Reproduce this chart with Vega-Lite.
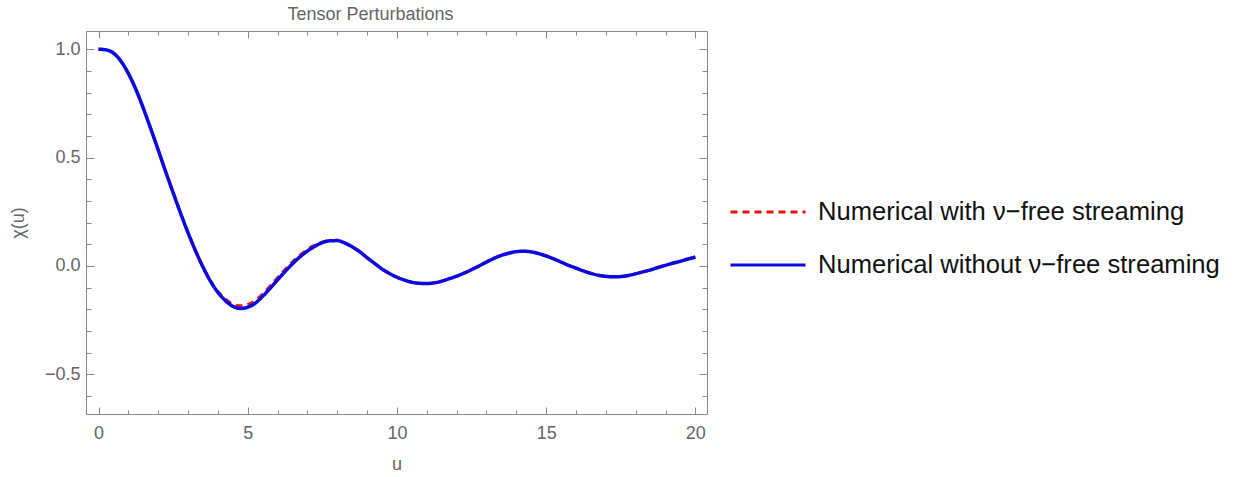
{
  "$schema": "https://vega.github.io/schema/vega-lite/v6.json",
  "autosize": "none",
  "width": 621,
  "height": 383,
  "padding": {"left": 86, "top": 31, "right": 545, "bottom": 63},
  "background": "white",
  "config": {
    "view": {"stroke": "#8a8a8a", "strokeWidth": 1},
    "font": "Liberation Sans",
    "axis": {"grid": false, "domain": false, "tickColor": "#8a8a8a", "tickWidth": 1, "labelFont": "Liberation Sans", "titleFont": "Liberation Sans", "labelColor": "#666666", "titleColor": "#666666", "labelFontSize": 18, "titleFontSize": 18, "titleFontWeight": "normal", "labelFlush": false, "labelOverlap": false}
  },
  "title": {"text": "Tensor Perturbations", "font": "Liberation Sans", "fontSize": 18, "fontWeight": "normal", "color": "#666666", "anchor": "middle", "baseline": "alphabetic", "offset": 9, "dx": -26, "dy": 16},
  "data": {"values": [
    {"u":0,"chi":1.000,"s":"B"},{"u":0.25,"chi":0.997,"s":"B"},{"u":0.5,"chi":0.982,"s":"B"},{"u":0.75,"chi":0.945,"s":"B"},{"u":1,"chi":0.888,"s":"B"},{"u":1.25,"chi":0.815,"s":"B"},{"u":1.5,"chi":0.728,"s":"B"},{"u":1.75,"chi":0.633,"s":"B"},{"u":2,"chi":0.535,"s":"B"},{"u":2.25,"chi":0.435,"s":"B"},{"u":2.5,"chi":0.338,"s":"B"},{"u":2.75,"chi":0.243,"s":"B"},{"u":3,"chi":0.153,"s":"B"},{"u":3.25,"chi":0.070,"s":"B"},{"u":3.5,"chi":-0.005,"s":"B"},{"u":3.75,"chi":-0.070,"s":"B"},{"u":4,"chi":-0.122,"s":"B"},{"u":4.25,"chi":-0.160,"s":"B"},{"u":4.5,"chi":-0.186,"s":"B"},{"u":4.75,"chi":-0.196,"s":"B"},{"u":5,"chi":-0.190,"s":"B"},{"u":5.25,"chi":-0.172,"s":"B"},{"u":5.5,"chi":-0.140,"s":"B"},{"u":5.75,"chi":-0.103,"s":"B"},{"u":6,"chi":-0.064,"s":"B"},{"u":6.25,"chi":-0.026,"s":"B"},{"u":6.5,"chi":0.010,"s":"B"},{"u":6.75,"chi":0.042,"s":"B"},{"u":7,"chi":0.069,"s":"B"},{"u":7.25,"chi":0.091,"s":"B"},{"u":7.5,"chi":0.108,"s":"B"},{"u":7.75,"chi":0.116,"s":"B"},{"u":8,"chi":0.117,"s":"B"},{"u":8.25,"chi":0.106,"s":"B"},{"u":8.5,"chi":0.088,"s":"B"},{"u":8.75,"chi":0.066,"s":"B"},{"u":9,"chi":0.038,"s":"B"},{"u":9.25,"chi":0.012,"s":"B"},{"u":9.5,"chi":-0.014,"s":"B"},{"u":9.75,"chi":-0.035,"s":"B"},{"u":10,"chi":-0.052,"s":"B"},{"u":10.25,"chi":-0.065,"s":"B"},{"u":10.5,"chi":-0.075,"s":"B"},{"u":10.75,"chi":-0.080,"s":"B"},{"u":11,"chi":-0.081,"s":"B"},{"u":11.25,"chi":-0.078,"s":"B"},{"u":11.5,"chi":-0.070,"s":"B"},{"u":11.75,"chi":-0.059,"s":"B"},{"u":12,"chi":-0.047,"s":"B"},{"u":12.25,"chi":-0.033,"s":"B"},{"u":12.5,"chi":-0.017,"s":"B"},{"u":12.75,"chi":0.000,"s":"B"},{"u":13,"chi":0.018,"s":"B"},{"u":13.25,"chi":0.035,"s":"B"},{"u":13.5,"chi":0.049,"s":"B"},{"u":13.75,"chi":0.059,"s":"B"},{"u":14,"chi":0.066,"s":"B"},{"u":14.25,"chi":0.068,"s":"B"},{"u":14.5,"chi":0.065,"s":"B"},{"u":14.75,"chi":0.057,"s":"B"},{"u":15,"chi":0.046,"s":"B"},{"u":15.25,"chi":0.033,"s":"B"},{"u":15.5,"chi":0.018,"s":"B"},{"u":15.75,"chi":0.003,"s":"B"},{"u":16,"chi":-0.010,"s":"B"},{"u":16.25,"chi":-0.023,"s":"B"},{"u":16.5,"chi":-0.034,"s":"B"},{"u":16.75,"chi":-0.043,"s":"B"},{"u":17,"chi":-0.048,"s":"B"},{"u":17.25,"chi":-0.050,"s":"B"},{"u":17.5,"chi":-0.049,"s":"B"},{"u":17.75,"chi":-0.044,"s":"B"},{"u":18,"chi":-0.036,"s":"B"},{"u":18.25,"chi":-0.027,"s":"B"},{"u":18.5,"chi":-0.018,"s":"B"},{"u":18.75,"chi":-0.007,"s":"B"},{"u":19,"chi":0.003,"s":"B"},{"u":19.25,"chi":0.013,"s":"B"},{"u":19.5,"chi":0.022,"s":"B"},{"u":19.75,"chi":0.032,"s":"B"},{"u":20,"chi":0.041,"s":"B"},
    {"u":0,"chi":1.000,"s":"A"},{"u":0.25,"chi":0.997,"s":"A"},{"u":0.5,"chi":0.982,"s":"A"},{"u":0.75,"chi":0.945,"s":"A"},{"u":1,"chi":0.888,"s":"A"},{"u":1.25,"chi":0.815,"s":"A"},{"u":1.5,"chi":0.728,"s":"A"},{"u":1.75,"chi":0.633,"s":"A"},{"u":2,"chi":0.535,"s":"A"},{"u":2.25,"chi":0.435,"s":"A"},{"u":2.5,"chi":0.338,"s":"A"},{"u":2.75,"chi":0.243,"s":"A"},{"u":3,"chi":0.153,"s":"A"},{"u":3.25,"chi":0.070,"s":"A"},{"u":3.5,"chi":-0.004,"s":"A"},{"u":3.75,"chi":-0.068,"s":"A"},{"u":4,"chi":-0.118,"s":"A"},{"u":4.25,"chi":-0.153,"s":"A"},{"u":4.5,"chi":-0.176,"s":"A"},{"u":4.75,"chi":-0.184,"s":"A"},{"u":5,"chi":-0.178,"s":"A"},{"u":5.25,"chi":-0.160,"s":"A"},{"u":5.5,"chi":-0.130,"s":"A"},{"u":5.75,"chi":-0.093,"s":"A"},{"u":6,"chi":-0.054,"s":"A"},{"u":6.25,"chi":-0.016,"s":"A"},{"u":6.5,"chi":0.019,"s":"A"},{"u":6.75,"chi":0.050,"s":"A"},{"u":7,"chi":0.076,"s":"A"},{"u":7.25,"chi":0.096,"s":"A"},{"u":7.5,"chi":0.110,"s":"A"},{"u":7.75,"chi":0.117,"s":"A"},{"u":8,"chi":0.117,"s":"A"},{"u":8.25,"chi":0.106,"s":"A"},{"u":8.5,"chi":0.088,"s":"A"},{"u":8.75,"chi":0.066,"s":"A"},{"u":9,"chi":0.038,"s":"A"},{"u":9.25,"chi":0.012,"s":"A"},{"u":9.5,"chi":-0.014,"s":"A"},{"u":9.75,"chi":-0.035,"s":"A"},{"u":10,"chi":-0.052,"s":"A"},{"u":10.25,"chi":-0.065,"s":"A"},{"u":10.5,"chi":-0.075,"s":"A"},{"u":10.75,"chi":-0.080,"s":"A"},{"u":11,"chi":-0.081,"s":"A"},{"u":11.25,"chi":-0.078,"s":"A"},{"u":11.5,"chi":-0.070,"s":"A"},{"u":11.75,"chi":-0.059,"s":"A"},{"u":12,"chi":-0.047,"s":"A"},{"u":12.25,"chi":-0.033,"s":"A"},{"u":12.5,"chi":-0.017,"s":"A"},{"u":12.75,"chi":0.000,"s":"A"},{"u":13,"chi":0.018,"s":"A"},{"u":13.25,"chi":0.035,"s":"A"},{"u":13.5,"chi":0.049,"s":"A"},{"u":13.75,"chi":0.059,"s":"A"},{"u":14,"chi":0.066,"s":"A"},{"u":14.25,"chi":0.068,"s":"A"},{"u":14.5,"chi":0.065,"s":"A"},{"u":14.75,"chi":0.057,"s":"A"},{"u":15,"chi":0.046,"s":"A"},{"u":15.25,"chi":0.033,"s":"A"},{"u":15.5,"chi":0.018,"s":"A"},{"u":15.75,"chi":0.003,"s":"A"},{"u":16,"chi":-0.010,"s":"A"},{"u":16.25,"chi":-0.023,"s":"A"},{"u":16.5,"chi":-0.034,"s":"A"},{"u":16.75,"chi":-0.043,"s":"A"},{"u":17,"chi":-0.048,"s":"A"},{"u":17.25,"chi":-0.050,"s":"A"},{"u":17.5,"chi":-0.049,"s":"A"},{"u":17.75,"chi":-0.044,"s":"A"},{"u":18,"chi":-0.036,"s":"A"},{"u":18.25,"chi":-0.027,"s":"A"},{"u":18.5,"chi":-0.018,"s":"A"},{"u":18.75,"chi":-0.007,"s":"A"},{"u":19,"chi":0.003,"s":"A"},{"u":19.25,"chi":0.013,"s":"A"},{"u":19.5,"chi":0.022,"s":"A"},{"u":19.75,"chi":0.032,"s":"A"},{"u":20,"chi":0.041,"s":"A"}
  ]},
  "resolve": {"axis": {"x": "independent", "y": "independent"}},
  "layer": [
    {
      "transform": [{"filter": "datum.s == 'A'"}],
      "mark": {"type": "line", "strokeWidth": 3, "interpolate": "monotone"},
      "encoding": {
        "x": {"field": "u", "type": "quantitative", "scale": {"domain": [-0.42, 20.39], "nice": false, "zero": false},
              "axis": {"orient": "bottom", "values": [0, 5, 10, 15, 20], "format": "d", "ticks": false, "labelPadding": 24, "labelBaseline": "alphabetic", "title": "u", "titleX": 310.5, "titleY": 55, "titleBaseline": "alphabetic", "titleAlign": "center"}},
        "y": {"field": "chi", "type": "quantitative", "scale": {"domain": [-0.683, 1.084], "nice": false, "zero": false},
              "axis": {"orient": "left", "values": [-0.5, 0, 0.5, 1], "format": ".1f", "ticks": false, "labelPadding": 6, "labelBaseline": "middle", "title": "χ(u)", "titleX": -68, "titleY": 191.5, "titleBaseline": "middle", "titleAlign": "center", "titleAngle": 270}},
        "color": {"field": "s", "type": "nominal", "scale": {"domain": ["A", "B"], "range": ["#ee1111", "#0a0ae0"]},
                  "legend": {"orient": "none", "legendX": 643, "legendY": 142, "title": null, "padding": 0, "symbolType": "stroke", "symbolSize": 5625, "symbolStrokeWidth": 3, "labelFontSize": 25.6, "labelColor": "#111111", "labelFont": "Liberation Sans", "labelOffset": 11, "labelLimit": 700, "rowPadding": 0,
                             "labelExpr": "datum.label == 'A' ? 'Numerical with ν−free streaming' : 'Numerical without ν−free streaming'"}},
        "strokeDash": {"field": "s", "type": "nominal", "scale": {"domain": ["A", "B"], "range": [[7, 5], [1, 0]]},
                       "legend": {"orient": "none", "legendX": 643, "legendY": 142, "title": null, "padding": 0, "symbolType": "stroke", "symbolSize": 5625, "symbolStrokeWidth": 3, "labelFontSize": 25.6, "labelColor": "#111111", "labelFont": "Liberation Sans", "labelOffset": 11, "labelLimit": 700, "rowPadding": 0,
                             "labelExpr": "datum.label == 'A' ? 'Numerical with ν−free streaming' : 'Numerical without ν−free streaming'"}}
      }
    },
    {
      "transform": [{"filter": "datum.s == 'B'"}],
      "mark": {"type": "line", "strokeWidth": 3.5, "interpolate": "monotone"},
      "encoding": {
        "x": {"field": "u", "type": "quantitative", "scale": {"domain": [-0.42, 20.39], "nice": false, "zero": false},
              "axis": {"orient": "bottom", "values": [0, 5, 10, 15, 20], "tickSize": -7, "labels": false, "title": null}},
        "y": {"field": "chi", "type": "quantitative", "scale": {"domain": [-0.683, 1.084], "nice": false, "zero": false},
              "axis": {"orient": "left", "values": [-0.5, 0, 0.5, 1], "tickSize": -8, "labels": false, "title": null}},
        "color": {"field": "s", "type": "nominal", "scale": {"domain": ["A", "B"], "range": ["#ee1111", "#0a0ae0"]}},
        "strokeDash": {"field": "s", "type": "nominal", "scale": {"domain": ["A", "B"], "range": [[7, 5], [1, 0]]}}
      }
    },
    {
      "mark": {"type": "line", "strokeOpacity": 0},
      "encoding": {
        "x": {"field": "u", "type": "quantitative", "axis": {"orient": "bottom", "values": [1,2,3,4,6,7,8,9,11,12,13,14,16,17,18,19], "tickSize": -4, "labels": false, "title": null}},
        "y": {"field": "chi", "type": "quantitative", "axis": {"orient": "left", "values": [-0.6,-0.4,-0.3,-0.2,-0.1,0.1,0.2,0.3,0.4,0.6,0.7,0.8,0.9], "tickSize": -5, "labels": false, "title": null}}
      }
    },
    {
      "mark": {"type": "line", "strokeOpacity": 0},
      "encoding": {
        "x": {"field": "u", "type": "quantitative", "axis": {"orient": "top", "values": [0, 5, 10, 15, 20], "tickSize": -7, "labels": false, "title": null}},
        "y": {"field": "chi", "type": "quantitative", "axis": {"orient": "right", "values": [-0.5, 0, 0.5, 1], "tickSize": -8, "labels": false, "title": null}}
      }
    },
    {
      "mark": {"type": "line", "strokeOpacity": 0},
      "encoding": {
        "x": {"field": "u", "type": "quantitative", "axis": {"orient": "top", "values": [1,2,3,4,6,7,8,9,11,12,13,14,16,17,18,19], "tickSize": -4, "labels": false, "title": null}},
        "y": {"field": "chi", "type": "quantitative", "axis": {"orient": "right", "values": [-0.6,-0.4,-0.3,-0.2,-0.1,0.1,0.2,0.3,0.4,0.6,0.7,0.8,0.9], "tickSize": -5, "labels": false, "title": null}}
      }
    }
  ]
}
